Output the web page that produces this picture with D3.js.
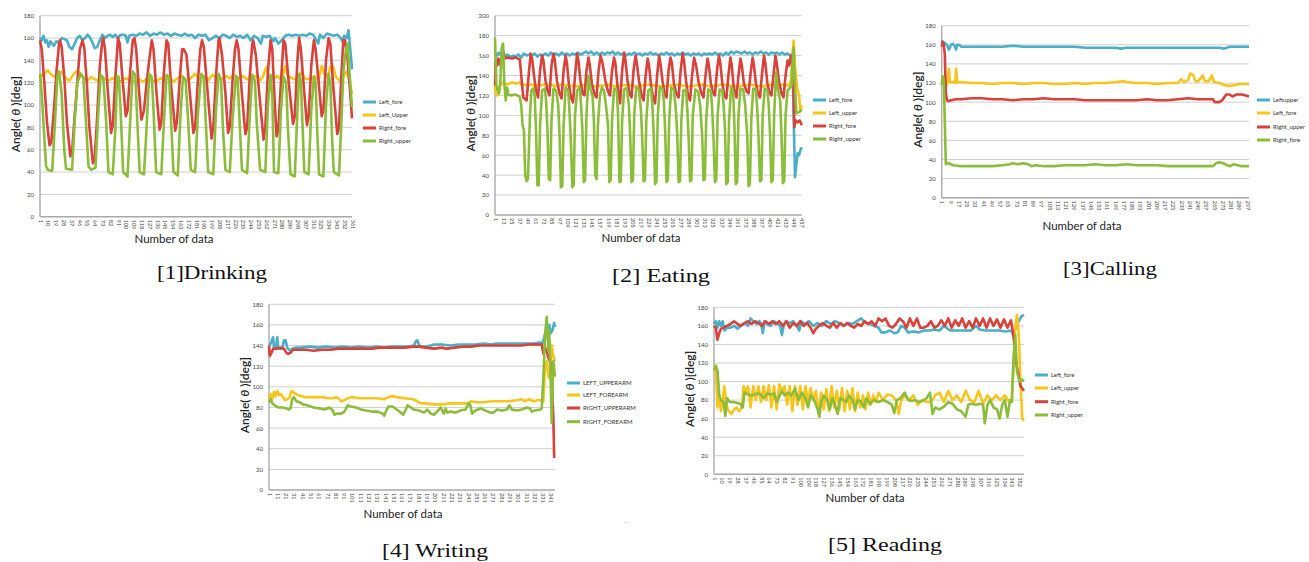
<!DOCTYPE html>
<html>
<head>
<meta charset="utf-8">
<script src="https://cdnjs.cloudflare.com/ajax/libs/d3/7.8.5/d3.min.js"></script>
<style>
  html, body { margin: 0; padding: 0; background: #fff; }
  svg { display: block; }
</style>
</head>
<body>
<div id="chart"></div>
<script>
// ---- tick labels ----
const angleTicks180 = [0, 20, 40, 60, 80, 100, 120, 140, 160, 180];
const angleTicks200 = [0, 20, 40, 60, 80, 100, 120, 140, 160, 180, 200];
const drinkTicks = [1,10,19,28,37,46,55,64,73,82,91,100,109,118,127,136,145,154,163,172,181,190,199,208,217,226,235,244,253,262,271,280,289,298,307,316,325,334,343,352,361];
const eatTicks = [1,13,25,37,49,61,73,85,97,109,121,133,145,157,169,181,193,205,217,229,241,253,265,277,289,301,313,325,337,349,361,373,385,397,409,421,433,445,457];
const callTicks = [1,9,17,25,33,41,49,57,65,73,81,89,97,105,113,121,129,137,145,153,161,169,177,185,193,201,209,217,225,233,241,249,257,265,273,281,289,297];
const writeTicks = [1,11,21,31,41,51,61,71,81,91,101,111,121,131,141,151,161,171,181,191,201,211,221,231,241,251,261,271,281,291,301,311,321,331,341];
const readTicks = [1,10,19,28,37,46,55,64,73,82,91,100,109,118,127,136,145,154,163,172,181,190,199,208,217,226,235,244,253,262,271,280,289,298,307,316,325,334,343,352];

// ---- legend labels ----
const drinkNames = ['Left_fore', 'Left_Upper', 'Right_fore', 'Right_upper'];
const eatNames = ['Left_fore', 'Left_upper', 'Right_fore', 'Right_upper'];
const callNames = ['Leftupper', 'Left_fore', 'Right_upper', 'Right_fore'];
const writeNames = ['LEFT_UPPERARM', 'LEFT_FOREARM', 'RIGHT_UPPERARM', 'RIGHT_FOREARM'];
const readNames = ['Left_fore', 'Left_upper', 'Right_fore', 'Right_upper'];

// ---- [1] Drinking : [sample, angle] ----
const drinkLeftFore = [[1,160],[3,158],[5,162],[7,156],[9,158],[11,152],[13,157],[15,155],[17,153],[20,157],[23,156],[26,160],[29,159],[32,158],[35,152],[38,150],[41,155],[44,160],[47,162],[50,158],[53,160],[56,163],[59,160],[62,155],[64,151],[67,152],[70,158],[73,163],[76,160],[79,162],[82,163],[85,161],[88,163],[91,160],[94,163],[97,163],[100,162],[102,156],[104,162],[108,163],[112,162],[116,164],[120,163],[124,165],[128,162],[132,164],[136,163],[140,165],[144,163],[148,164],[152,162],[156,164],[160,163],[164,162],[168,164],[172,162],[176,163],[180,160],[184,163],[188,162],[192,163],[196,158],[200,160],[204,162],[208,160],[212,163],[216,162],[220,160],[224,163],[228,161],[232,162],[236,160],[240,163],[244,158],[248,162],[252,160],[256,155],[258,162],[262,161],[266,162],[270,157],[272,160],[276,155],[280,158],[284,162],[288,163],[292,162],[296,163],[300,162],[304,163],[308,162],[312,164],[316,163],[320,158],[322,155],[324,163],[328,160],[332,164],[336,163],[340,162],[344,163],[348,160],[350,157],[352,162],[355,160],[357,167],[359,150],[361,132]];
const drinkLeftUpper = [[1,128],[4,126],[7,129],[10,131],[13,128],[16,126],[20,125],[23,128],[26,130],[29,126],[32,123],[35,122],[39,127],[43,130],[47,129],[50,125],[53,123],[56,122],[60,125],[64,123],[68,122],[72,124],[76,123],[80,122],[85,124],[90,122],[95,121],[100,124],[105,122],[110,121],[115,123],[120,121],[125,124],[130,122],[135,121],[140,124],[145,122],[150,125],[155,121],[160,124],[165,126],[170,122],[175,124],[180,128],[185,123],[190,126],[195,122],[200,127],[205,124],[210,123],[215,126],[220,124],[225,127],[230,124],[235,126],[240,123],[245,125],[250,126],[255,122],[258,125],[262,134],[265,126],[270,124],[275,126],[280,122],[284,135],[287,126],[292,124],[298,122],[303,130],[306,124],[312,123],[318,126],[322,122],[326,135],[329,128],[333,125],[336,134],[339,135],[342,126],[346,122],[350,124],[354,130],[357,125],[361,110]];
const drinkRightFore = [[1,158],[3,150],[6,120],[9,85],[12,64],[14,66],[17,95],[20,130],[23,155],[24,158],[26,152],[29,125],[32,85],[36,54],[38,58],[41,90],[44,120],[47,150],[50,158],[52,152],[55,120],[58,80],[62,48],[64,50],[67,90],[70,135],[73,158],[74,160],[76,150],[79,115],[83,75],[85,82],[88,125],[91,160],[93,155],[96,125],[100,90],[102,95],[105,130],[108,158],[110,160],[112,150],[115,115],[118,87],[121,95],[124,120],[127,140],[130,158],[132,150],[135,115],[139,78],[141,85],[144,130],[147,158],[149,155],[152,120],[157,77],[159,85],[162,120],[165,150],[167,150],[170,145],[174,110],[178,75],[180,80],[183,120],[186,150],[188,158],[190,152],[194,115],[199,70],[201,80],[204,125],[207,158],[208,160],[211,145],[215,110],[218,75],[220,80],[223,120],[226,150],[228,158],[230,150],[234,110],[238,74],[240,80],[243,125],[246,155],[247,158],[250,145],[254,110],[259,69],[261,80],[264,130],[267,158],[269,150],[272,100],[274,72],[276,78],[279,120],[282,158],[284,155],[288,120],[293,83],[295,90],[298,140],[300,160],[302,150],[305,120],[309,82],[311,90],[314,135],[317,158],[319,150],[322,125],[326,90],[328,95],[331,140],[334,160],[336,155],[339,120],[344,74],[346,80],[349,130],[351,158],[353,158],[356,140],[359,110],[361,88]];
const drinkRightUpper = [[1,128],[3,110],[5,84],[8,45],[10,42],[15,41],[18,80],[21,126],[23,130],[26,110],[29,60],[31,43],[38,42],[41,85],[44,120],[48,128],[51,125],[54,85],[57,45],[60,42],[65,44],[68,90],[71,127],[74,125],[77,90],[80,40],[85,38],[88,80],[90,126],[92,125],[94,95],[97,40],[102,36],[105,85],[108,130],[111,127],[113,90],[116,40],[121,38],[124,80],[127,128],[130,125],[132,95],[135,40],[141,38],[144,85],[147,127],[150,125],[152,90],[155,40],[160,37],[163,90],[166,125],[169,122],[172,85],[175,42],[180,40],[183,90],[187,128],[190,125],[192,90],[195,40],[201,38],[204,95],[207,128],[210,122],[212,80],[215,42],[220,40],[223,85],[227,126],[229,124],[231,90],[234,42],[240,39],[243,90],[246,127],[249,122],[251,85],[255,42],[261,40],[264,100],[267,127],[269,110],[271,40],[276,39],[279,95],[282,125],[285,120],[287,80],[290,38],[295,36],[298,95],[300,128],[302,122],[304,80],[306,40],[311,38],[314,95],[317,125],[319,120],[321,75],[323,38],[328,36],[331,100],[334,128],[336,120],[338,70],[340,40],[346,37],[349,90],[351,130],[354,150],[356,155],[358,130],[361,98]];

// ---- [2] Eating ----
const eatLeftFore = [[1,163],[4,160],[7,163],[10,160],[13,164],[16,159],[20,161],[24,158],[28,160],[32,159],[36,161],[40,158],[44,162],[48,160],[52,161],[56,160],[60,162],[64,159],[68,161],[72,160],[76,162],[80,160],[84,163],[88,160],[92,162],[96,160],[100,163],[104,161],[108,162],[112,160],[116,162],[120,161],[124,163],[128,161],[132,162],[136,164],[140,162],[144,164],[148,161],[152,163],[156,161],[160,163],[164,161],[168,163],[172,162],[176,164],[180,161],[184,163],[188,161],[192,162],[196,160],[200,162],[204,161],[208,163],[212,161],[216,162],[220,160],[224,162],[228,161],[232,163],[236,161],[240,162],[244,160],[248,162],[252,161],[256,163],[260,161],[264,162],[268,160],[272,162],[276,161],[280,163],[284,161],[288,162],[292,160],[296,162],[300,161],[304,162],[308,160],[312,162],[316,161],[320,162],[324,161],[328,163],[332,161],[336,162],[340,160],[344,163],[348,161],[352,164],[356,162],[360,164],[364,163],[368,162],[372,164],[376,162],[380,163],[384,161],[388,163],[392,162],[396,164],[400,162],[404,163],[408,161],[412,163],[416,162],[420,163],[424,161],[428,163],[432,161],[436,162],[440,160],[443,162],[445,100],[447,38],[449,50],[451,62],[453,60],[455,65],[457,68]];
const eatLeftUpper = [[1,130],[2,122],[4,120],[6,121],[8,128],[10,132],[14,133],[18,131],[22,132],[27,133],[32,132],[37,133],[41,130],[45,131],[50,130],[55,131],[60,129],[65,131],[70,130],[75,131],[80,130],[85,131],[90,129],[95,130],[100,131],[110,130],[120,129],[130,130],[140,131],[150,129],[160,130],[170,131],[180,129],[190,130],[200,131],[210,129],[220,130],[230,131],[240,130],[250,129],[260,130],[270,131],[280,130],[290,129],[300,130],[310,131],[320,129],[330,130],[340,131],[350,130],[360,129],[370,130],[380,131],[390,130],[400,129],[410,131],[420,130],[430,131],[438,130],[441,135],[443,160],[445,175],[447,150],[450,128],[453,120],[455,105],[457,110]];
const eatRightFore = [[1,130],[2,155],[4,150],[6,157],[8,151],[10,156],[13,165],[15,157],[20,158],[26,157],[32,158],[38,156],[40,140],[43,118],[48,115],[51,140],[54,162],[56,158],[59,140],[62,125],[65,118],[68,145],[71,160],[73,155],[76,135],[79,125],[82,120],[85,150],[88,162],[90,155],[93,135],[97,122],[100,117],[103,145],[106,160],[108,152],[111,130],[114,118],[117,113],[120,140],[123,162],[125,155],[128,135],[131,122],[134,120],[137,145],[140,158],[142,150],[145,132],[149,121],[152,118],[155,145],[158,160],[161,152],[165,135],[169,124],[172,120],[175,145],[178,158],[180,152],[183,130],[187,112],[190,145],[193,163],[195,155],[198,135],[201,122],[204,118],[207,145],[210,160],[212,152],[215,135],[219,120],[222,115],[225,140],[228,157],[230,150],[233,130],[236,118],[239,112],[242,140],[245,160],[247,152],[250,135],[253,122],[256,118],[259,145],[262,158],[264,152],[267,132],[271,121],[274,118],[277,145],[280,162],[282,155],[285,135],[288,120],[291,115],[294,140],[297,158],[300,150],[304,132],[308,122],[311,118],[314,140],[317,157],[319,150],[322,132],[325,123],[328,120],[331,145],[334,160],[336,152],[339,132],[342,120],[345,117],[348,140],[351,158],[353,150],[356,128],[360,118],[363,140],[366,157],[368,150],[371,132],[375,124],[378,122],[381,142],[384,158],[386,150],[389,132],[392,122],[395,118],[398,142],[401,160],[403,152],[406,132],[409,123],[412,120],[415,140],[418,160],[420,152],[423,135],[427,122],[430,118],[433,140],[436,155],[438,150],[441,160],[443,150],[445,120],[446,88],[448,95],[451,93],[454,95],[457,90]];
const eatRightUpper = [[1,178],[3,130],[5,125],[7,122],[9,135],[11,168],[13,172],[15,130],[17,115],[19,128],[21,121],[25,120],[30,121],[35,120],[38,118],[40,110],[42,90],[44,85],[46,40],[48,34],[50,36],[53,100],[55,125],[58,127],[60,120],[62,85],[64,30],[66,30],[68,90],[71,125],[75,127],[77,115],[79,85],[81,36],[83,35],[85,95],[88,127],[92,125],[95,110],[97,80],[99,28],[101,29],[103,90],[106,128],[110,125],[112,100],[114,70],[116,28],[118,30],[120,100],[123,125],[127,128],[129,110],[131,85],[133,33],[135,35],[137,100],[140,140],[143,126],[146,120],[148,95],[150,40],[152,36],[154,90],[157,120],[160,128],[163,125],[166,110],[169,90],[171,33],[173,35],[175,95],[178,127],[182,125],[184,100],[186,33],[188,34],[190,95],[193,126],[197,128],[200,110],[202,80],[204,33],[206,35],[208,100],[211,128],[215,126],[218,105],[220,75],[222,34],[224,35],[226,95],[229,125],[233,127],[235,110],[237,80],[239,31],[241,33],[243,100],[246,128],[250,127],[252,115],[254,85],[256,33],[258,35],[260,95],[263,128],[267,126],[270,105],[272,80],[274,33],[276,34],[278,95],[281,125],[285,126],[287,105],[289,75],[291,34],[293,35],[295,100],[299,126],[303,124],[306,110],[309,80],[311,35],[313,36],[315,95],[318,126],[322,125],[324,105],[326,75],[328,33],[330,35],[332,100],[335,126],[339,125],[341,110],[343,85],[345,31],[347,33],[349,95],[352,128],[355,125],[357,90],[359,31],[361,33],[363,100],[366,127],[370,126],[373,110],[376,80],[378,29],[380,31],[382,95],[385,127],[389,126],[391,105],[393,75],[395,34],[397,35],[399,100],[402,127],[406,125],[408,110],[410,80],[412,33],[414,35],[416,100],[419,143],[422,125],[425,115],[427,80],[429,32],[431,34],[433,100],[436,125],[440,128],[442,130],[444,160],[445,168],[447,130],[449,102],[452,103],[455,104],[457,106]];

// ---- [3] Calling ----
const callLeftUpper = [[1,165],[2,163],[4,162],[6,160],[8,155],[9,157],[10,160],[12,161],[14,158],[15,155],[16,160],[18,160],[20,158],[30,158],[40,158],[50,158],[60,158],[70,159],[80,158],[90,158],[100,158],[110,158],[120,158],[130,158],[140,157],[150,157],[160,157],[170,157],[175,156],[180,157],[190,157],[200,157],[210,157],[220,157],[230,157],[240,157],[250,157],[260,157],[270,157],[275,156],[280,158],[290,158],[299,158]];
const callLeftFore = [[1,118],[2,122],[3,126],[4,118],[6,118],[8,135],[9,121],[12,121],[14,120],[15,135],[16,121],[20,121],[30,120],[40,120],[50,119],[60,120],[70,120],[80,119],[90,120],[100,120],[110,119],[120,119],[130,120],[140,119],[150,120],[160,120],[170,121],[178,122],[180,121],[190,120],[200,120],[210,119],[220,120],[230,120],[233,124],[236,121],[240,123],[242,130],[245,128],[247,122],[250,122],[254,128],[256,122],[260,122],[263,128],[265,121],[270,120],[275,118],[280,117],[285,118],[290,119],[299,119]];
const callRightUpper = [[1,158],[2,163],[3,160],[4,150],[5,110],[6,102],[8,101],[10,102],[15,103],[20,103],[30,104],[40,104],[50,103],[60,103],[70,102],[80,103],[90,103],[100,104],[110,103],[120,103],[130,103],[140,102],[150,102],[160,102],[170,102],[180,102],[190,102],[200,103],[210,102],[220,102],[230,103],[240,104],[250,103],[260,103],[264,103],[266,100],[270,100],[273,102],[277,108],[280,108],[283,106],[287,108],[292,108],[296,107],[299,106]];
const callRightFore = [[1,118],[2,127],[3,124],[4,80],[5,35],[6,36],[8,36],[12,34],[20,33],[30,33],[40,33],[50,33],[60,34],[67,35],[70,36],[75,35],[80,36],[85,35],[88,33],[92,34],[100,33],[110,33],[120,34],[130,34],[140,34],[150,35],[160,34],[170,34],[180,35],[190,34],[200,34],[210,34],[220,33],[230,33],[240,33],[250,33],[260,33],[264,33],[267,36],[270,37],[274,36],[278,34],[281,33],[284,35],[288,34],[292,33],[299,33]];

// ---- [4] Writing ----
const writeLeftUpperarm = [[1,140],[3,142],[5,146],[6,148],[7,138],[9,137],[11,148],[12,138],[14,137],[17,137],[19,145],[21,145],[23,138],[25,136],[27,135],[29,137],[33,138],[40,138],[50,139],[60,138],[70,139],[80,138],[90,139],[100,138],[110,139],[120,138],[130,139],[140,138],[150,139],[160,139],[170,139],[176,140],[178,144],[180,145],[182,140],[186,139],[190,139],[196,140],[200,141],[210,141],[220,140],[230,141],[240,141],[250,141],[260,142],[270,141],[275,142],[280,142],[290,142],[300,142],[310,142],[320,142],[328,143],[331,142],[333,148],[335,155],[337,150],[339,160],[341,152],[343,155],[345,162],[346,158]];
const writeLeftForearm = [[1,89],[3,93],[5,88],[7,95],[9,91],[11,96],[13,92],[15,93],[18,90],[20,87],[23,88],[26,90],[28,96],[30,95],[33,93],[36,92],[40,91],[45,90],[55,90],[65,90],[72,89],[78,89],[82,90],[86,88],[88,86],[92,87],[96,89],[100,90],[110,89],[120,89],[130,89],[140,88],[145,90],[150,91],[155,90],[165,89],[175,88],[180,86],[184,84],[190,84],[200,83],[210,83],[220,84],[230,84],[240,84],[245,86],[250,85],[260,85],[270,86],[280,86],[290,86],[300,87],[305,88],[310,86],[315,88],[320,86],[325,87],[330,87],[332,86],[334,120],[336,125],[338,110],[340,108],[342,140],[344,130],[346,125]];
const writeRightUpperarm = [[1,140],[2,130],[4,133],[6,137],[10,137],[15,138],[19,137],[22,133],[24,132],[27,133],[30,136],[35,136],[45,136],[55,135],[65,136],[75,136],[85,137],[95,137],[105,137],[115,137],[125,137],[135,138],[145,138],[155,138],[165,138],[175,139],[182,139],[190,138],[200,137],[210,138],[215,137],[225,138],[235,139],[245,139],[255,140],[265,140],[275,140],[285,140],[295,140],[305,140],[315,141],[325,141],[330,141],[332,132],[334,138],[336,135],[338,128],[340,125],[342,108],[344,70],[345,31]];
const writeRightForearm = [[1,85],[3,88],[5,84],[8,82],[12,80],[18,80],[22,79],[25,78],[27,79],[29,88],[31,90],[34,86],[38,85],[42,83],[48,82],[55,80],[62,79],[68,78],[74,80],[78,77],[80,73],[83,74],[88,74],[92,76],[96,82],[100,81],[106,80],[112,78],[118,77],[125,76],[132,76],[138,74],[140,72],[143,78],[145,81],[150,81],[155,78],[160,75],[163,73],[166,78],[168,82],[172,80],[176,78],[182,77],[188,75],[192,78],[196,74],[200,73],[204,76],[208,80],[212,74],[214,79],[216,75],[220,76],[226,75],[232,77],[238,78],[242,84],[244,82],[246,74],[250,77],[256,79],[262,77],[268,75],[272,75],[276,78],[282,77],[288,78],[291,82],[294,78],[300,77],[306,78],[312,80],[316,79],[318,76],[322,77],[328,78],[330,79],[332,110],[334,150],[336,168],[338,135],[339,155],[341,100],[342,65],[344,125],[346,110]];

// ---- [5] Reading ----
const readLeftFore = [[1,162],[3,165],[5,158],[7,165],[9,160],[11,165],[13,155],[16,158],[20,158],[24,160],[28,157],[32,160],[36,163],[40,160],[43,168],[46,165],[50,162],[53,165],[55,163],[57,152],[59,165],[62,162],[66,160],[70,165],[74,162],[77,160],[79,150],[81,160],[84,165],[88,163],[92,165],[96,160],[99,155],[101,165],[105,162],[110,165],[115,160],[120,163],[125,160],[130,165],[135,162],[140,165],[145,163],[150,160],[155,163],[160,162],[165,165],[170,168],[175,163],[180,162],[185,160],[190,158],[193,153],[198,153],[203,155],[208,152],[212,153],[216,160],[220,158],[224,153],[230,154],[236,153],[242,155],[248,155],[254,156],[260,155],[265,160],[268,158],[272,155],[280,155],[288,155],[296,155],[302,160],[306,156],[312,155],[320,155],[328,155],[336,154],[342,155],[345,150],[348,160],[351,165],[354,170],[357,172]];
const readLeftUpper = [[1,118],[3,115],[5,72],[7,85],[9,68],[11,80],[13,95],[15,75],[18,68],[21,65],[24,70],[27,72],[30,68],[33,72],[35,95],[37,88],[40,95],[43,72],[46,95],[49,80],[52,95],[55,78],[58,95],[61,80],[64,96],[67,72],[70,95],[73,70],[76,97],[79,90],[82,95],[85,75],[88,95],[91,68],[94,95],[97,75],[100,95],[103,70],[106,95],[109,78],[112,93],[115,80],[118,90],[121,65],[124,88],[127,70],[130,92],[133,68],[136,95],[139,72],[142,90],[145,70],[148,93],[151,68],[154,90],[157,70],[160,93],[163,68],[166,88],[169,72],[172,85],[175,70],[178,88],[181,75],[184,85],[187,78],[190,88],[195,80],[200,86],[205,85],[210,80],[213,65],[216,80],[220,85],[225,80],[230,85],[235,75],[240,80],[245,78],[250,78],[255,85],[260,88],[265,78],[270,90],[275,80],[280,85],[285,78],[290,90],[295,80],[300,78],[305,90],[310,76],[315,85],[320,80],[325,85],[330,80],[335,85],[340,78],[343,80],[345,120],[347,160],[349,172],[351,150],[353,100],[355,60],[357,58]];
const readRightFore = [[1,160],[3,158],[5,145],[7,152],[9,157],[12,158],[16,160],[20,162],[24,165],[28,162],[32,160],[36,163],[40,165],[44,162],[48,165],[52,163],[56,160],[60,165],[64,162],[68,165],[72,162],[76,165],[80,160],[84,165],[88,158],[92,163],[96,160],[100,165],[104,160],[108,163],[112,158],[115,152],[118,157],[122,160],[126,163],[130,160],[134,158],[138,163],[142,158],[146,163],[150,160],[154,163],[158,160],[162,158],[166,162],[170,160],[174,165],[178,162],[182,165],[186,160],[190,168],[194,165],[198,168],[202,160],[206,158],[210,162],[214,168],[218,165],[222,158],[226,168],[230,160],[234,168],[238,158],[242,158],[246,160],[250,165],[254,158],[258,160],[262,166],[266,160],[270,168],[274,158],[278,166],[282,160],[286,168],[290,158],[294,165],[298,158],[302,168],[306,160],[310,168],[314,158],[318,168],[322,160],[326,167],[330,158],[334,167],[338,158],[342,166],[344,155],[346,140],[348,120],[350,110],[353,95],[357,90]];
const readRightUpper = [[1,112],[3,117],[5,112],[7,85],[9,80],[12,78],[14,63],[16,82],[19,78],[23,78],[27,77],[31,76],[34,72],[36,88],[40,86],[45,85],[50,87],[55,86],[58,82],[62,87],[66,86],[70,87],[73,78],[76,84],[79,90],[82,85],[86,88],[90,85],[94,92],[98,80],[102,88],[106,82],[109,72],[112,85],[116,80],[120,70],[122,62],[124,78],[127,85],[131,80],[134,70],[137,82],[140,75],[143,65],[146,82],[150,80],[153,78],[156,85],[160,80],[163,70],[166,80],[170,78],[173,72],[176,82],[180,76],[185,80],[190,78],[195,80],[200,78],[205,75],[208,66],[211,80],[215,82],[220,88],[224,80],[228,79],[232,80],[236,78],[240,79],[245,82],[249,88],[252,65],[255,72],[260,70],[265,73],[270,78],[275,76],[280,70],[285,68],[290,62],[293,75],[297,76],[302,75],[306,76],[310,75],[312,55],[315,75],[318,80],[322,72],[326,70],[329,60],[332,75],[335,80],[338,62],[341,80],[343,78],[345,125],[347,150],[349,110],[352,100],[355,102],[357,100]];

const SERIES_COLORS = ['#4aaec8', '#f8c51c', '#d9413b', '#8cbd3a'];
const UI_FONT = 'Lato, "Open Sans", sans-serif';
const CAPTION_FONT = '"Liberation Serif", "DejaVu Serif", serif';

// layout of each small chart (pixels on the page)
const panels = [
  { x0: 40, x1: 352, yTop: 15.7, yBot: 216.7, yMax: 180, nMax: 361, yTicks: angleTicks180, xTicks: drinkTicks,
    names: drinkNames, series: [drinkLeftFore, drinkLeftUpper, drinkRightFore, drinkRightUpper],
    legX: 363, legY: [102, 115, 128, 141], xTitleX: 174, xTitleY: 243,
    caption: '[1]Drinking', capX: 212, capY: 279, capW: 110 },
  { x0: 495, x1: 801.7, yTop: 15.7, yBot: 215, yMax: 200, nMax: 457, yTicks: angleTicks200, xTicks: eatTicks,
    names: eatNames, series: [eatLeftFore, eatLeftUpper, eatRightFore, eatRightUpper],
    legX: 813, legY: [100, 113, 126, 139], xTitleX: 641, xTitleY: 242,
    caption: '[2] Eating', capX: 661, capY: 282, capW: 98 },
  { x0: 941.7, x1: 1249, yTop: 25.7, yBot: 197.7, yMax: 180, nMax: 299, yTicks: angleTicks180, xTicks: callTicks,
    names: callNames, series: [callLeftUpper, callLeftFore, callRightUpper, callRightFore],
    legX: 1257, legY: [100, 113, 127, 140], xTitleX: 1082, xTitleY: 230,
    caption: '[3]Calling', capX: 1110, capY: 275, capW: 94 },
  { x0: 269, x1: 555, yTop: 304.3, yBot: 490, yMax: 180, nMax: 346, yTicks: angleTicks180, xTicks: writeTicks,
    names: writeNames, series: [writeLeftUpperarm, writeLeftForearm, writeRightUpperarm, writeRightForearm],
    legX: 567, legY: [383, 395, 408, 421.7], xTitleX: 403, xTitleY: 518,
    caption: '[4] Writing', capX: 435, capY: 557, capW: 106 },
  { x0: 714, x1: 1024, yTop: 307.3, yBot: 474.3, yMax: 180, nMax: 357, yTicks: angleTicks180, xTicks: readTicks,
    names: readNames, series: [readLeftFore, readLeftUpper, readRightFore, readRightUpper],
    legX: 1035, legY: [375, 388, 401.7, 415], xTitleX: 865, xTitleY: 502,
    caption: '[5] Reading', capX: 885, capY: 551, capW: 114 }
];

const svg = d3.select('#chart').append('svg')
  .attr('width', 1309)
  .attr('height', 562)
  .style('background', '#fff');

panels.forEach(p => {
  const x = d3.scaleLinear().domain([1, p.nMax]).range([p.x0, p.x1]);
  const y = d3.scaleLinear().domain([0, p.yMax]).range([p.yBot, p.yTop]);
  const g = svg.append('g');

  // horizontal grid lines
  g.append('g')
    .selectAll('line')
    .data(p.yTicks)
    .enter()
    .append('line')
      .attr('x1', p.x0)
      .attr('x2', p.x1)
      .attr('y1', d => y(d))
      .attr('y2', d => y(d))
      .attr('stroke', d => d === 0 ? '#a8a8a8' : '#cfcfcf')
      .attr('stroke-width', d => d === 0 ? 1.5 : 1);

  // y axis, labels only (line drawn below)
  const yAxis = g.append('g')
    .attr('transform', `translate(${p.x0}, 0)`)
    .call(d3.axisLeft(y).tickValues(p.yTicks).tickSize(0).tickPadding(6));
  yAxis.select('.domain').remove();
  yAxis.selectAll('text')
    .attr('font-family', UI_FONT)
    .attr('font-size', 6)
    .attr('fill', '#444');

  g.append('line')
    .attr('x1', p.x0).attr('x2', p.x0)
    .attr('y1', p.yTop).attr('y2', p.yBot)
    .attr('stroke', '#b0b0b0')
    .attr('stroke-width', 1.5);

  // x axis with vertical labels
  const xAxis = g.append('g')
    .attr('transform', `translate(0, ${p.yBot})`)
    .call(d3.axisBottom(x).tickValues(p.xTicks).tickFormat(d3.format('d')).tickSize(0));
  xAxis.select('.domain').remove();
  xAxis.selectAll('text')
    .attr('font-family', UI_FONT)
    .attr('font-size', 5.5)
    .attr('fill', '#444')
    .attr('transform', 'rotate(90)')
    .attr('text-anchor', 'start')
    .attr('dy', '0.35em')
    .attr('x', 3)
    .attr('y', 0);

  // series lines, Excel draws them in order so green ends up on top
  const line = d3.line()
    .x(d => x(d[0]))
    .y(d => y(d[1]));
  p.series.forEach((s, i) => {
    g.append('path')
      .datum(s)
      .attr('d', line)
      .attr('fill', 'none')
      .attr('stroke', SERIES_COLORS[i])
      .attr('stroke-width', 2.6)
      .attr('stroke-linejoin', 'round');
  });

  // legend
  p.names.forEach((name, i) => {
    g.append('line')
      .attr('x1', p.legX).attr('x2', p.legX + 13)
      .attr('y1', p.legY[i]).attr('y2', p.legY[i])
      .attr('stroke', SERIES_COLORS[i])
      .attr('stroke-width', 3);
    g.append('text')
      .attr('x', p.legX + 16)
      .attr('y', p.legY[i])
      .attr('dy', '0.35em')
      .attr('font-family', UI_FONT)
      .attr('font-size', 6)
      .attr('fill', '#333')
      .text(name);
  });

  // axis titles
  const yTitle = g.append('text')
    .attr('transform', `translate(${p.x0 - 24}, ${(p.yTop + p.yBot) / 2 - 2}) rotate(-90)`)
    .attr('text-anchor', 'middle')
    .attr('dy', '0.35em')
    .attr('font-family', UI_FONT)
    .attr('font-size', 12)
    .attr('font-weight', 600)
    .attr('fill', '#222');
  yTitle.append('tspan').text('Angle( ');
  yTitle.append('tspan').attr('font-style', 'italic').text('θ');
  yTitle.append('tspan').text(' )[deg]');

  g.append('text')
    .attr('x', p.xTitleX)
    .attr('y', p.xTitleY)
    .attr('text-anchor', 'middle')
    .attr('font-family', UI_FONT)
    .attr('font-size', 11.5)
    .attr('fill', '#222')
    .text('Number of data');

  // caption under the chart
  g.append('text')
    .attr('x', p.capX - p.capW / 2)
    .attr('y', p.capY)
    .attr('textLength', p.capW)
    .attr('lengthAdjust', 'spacingAndGlyphs')
    .attr('font-family', CAPTION_FONT)
    .attr('font-size', 19)
    .attr('fill', '#111')
    .text(p.caption);
});

// stray mark left in the scanned page
svg.append('text')
  .attr('x', 624).attr('y', 524)
  .attr('font-family', UI_FONT)
  .attr('font-size', 6)
  .attr('fill', '#b09a80')
  .text('--');
</script>
</body>
</html>
